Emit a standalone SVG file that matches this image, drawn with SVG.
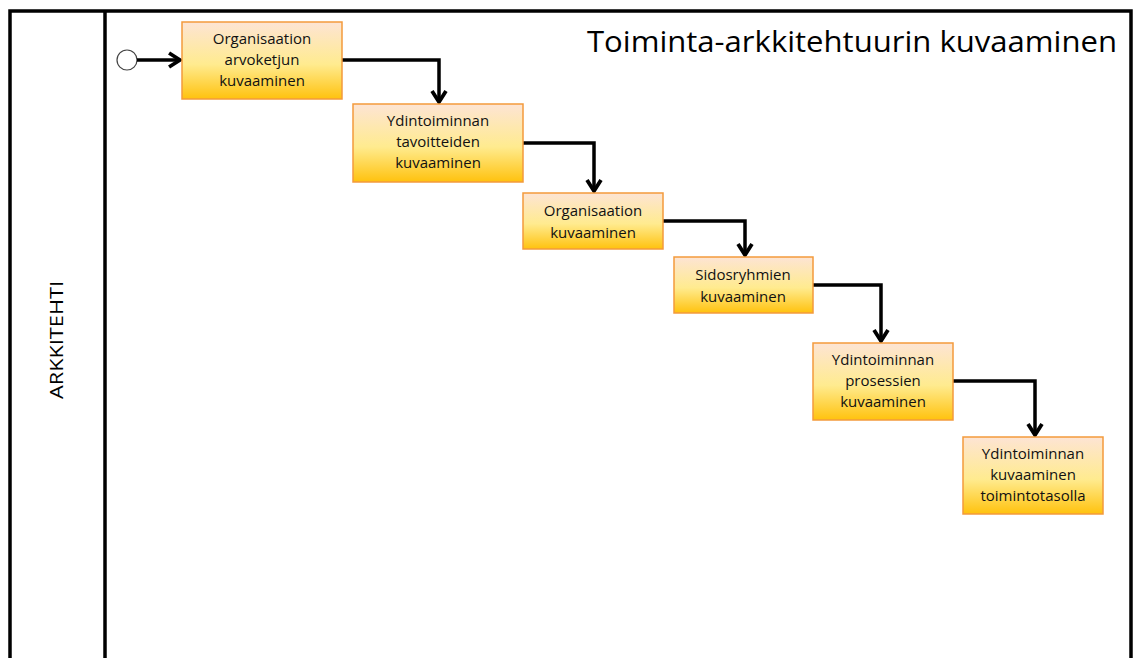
<svg xmlns="http://www.w3.org/2000/svg" width="1134" height="658" viewBox="0 0 1134 658">
  <defs>
    <linearGradient id="taskFill" x1="0" y1="0" x2="0" y2="1">
      <stop offset="0" stop-color="#fde4d4"/>
      <stop offset="0.55" stop-color="#ffeb8f"/>
      <stop offset="1" stop-color="#ffc20e"/>
    </linearGradient>
    <marker id="arrow" viewBox="0 0 12 12" refX="10" refY="6" markerWidth="5" markerHeight="5" orient="auto" markerUnits="strokeWidth">
      <path d="M2.5,1.2 L10,6 L2.5,10.8" fill="none" stroke="#000" stroke-width="2.6" stroke-linejoin="miter"/>
    </marker>
  </defs>
  <style>
    .lane { fill: none; stroke: #000; stroke-width: 3.5; }
    .task rect { fill: url(#taskFill); stroke: #f39a3c; stroke-width: 1.5; }
    .task text { font-family: "Open Sans", "Liberation Sans", sans-serif; font-size: 15px; fill: #111; text-anchor: middle; }
    .flow { fill: none; stroke: #000; stroke-width: 3.5; stroke-linejoin: miter; marker-end: url(#arrow); }
    .title { font-family: "Open Sans", "Liberation Sans", sans-serif; font-size: 29px; fill: #000; }
    .laneLabel { font-family: "Open Sans", "Liberation Sans", sans-serif; font-size: 18px; fill: #000; text-anchor: middle; }
  </style>

  <rect width="1134" height="658" fill="#fff"/>

  <!-- swimlane frame -->
  <g id="lane">
    <path class="lane" d="M10,660 V11 H1131 V660"/>
    <line class="lane" x1="105" y1="11" x2="105" y2="660"/>
    <text class="laneLabel" transform="translate(63,340) rotate(-90)" textLength="118" lengthAdjust="spacingAndGlyphs">ARKKITEHTI</text>
    <text class="title" x="1117" y="52" text-anchor="end" textLength="530" lengthAdjust="spacingAndGlyphs">Toiminta-arkkitehtuurin kuvaaminen</text>
  </g>

  <!-- start event -->
  <g id="start">
    <circle cx="127" cy="60" r="10" fill="#fff" stroke="#444" stroke-width="1.2"/>
  </g>

  <!-- sequence flows -->
  <g id="connectors">
    <path class="flow" d="M137,60 H180"/>
    <path class="flow" d="M342,60 H439 V102"/>
    <path class="flow" d="M523,143 H594 V191"/>
    <path class="flow" d="M663,221 H745 V255"/>
    <path class="flow" d="M813,285 H881 V341"/>
    <path class="flow" d="M953,381 H1035 V435"/>
  </g>

  <!-- tasks -->
  <g id="task1" class="task">
    <rect x="182" y="22" width="160" height="77"/>
    <text x="262" y="44">Organisaation</text>
    <text x="262" y="65">arvoketjun</text>
    <text x="262" y="86">kuvaaminen</text>
  </g>
  <g id="task2" class="task">
    <rect x="353" y="104" width="170" height="78"/>
    <text x="438" y="126">Ydintoiminnan</text>
    <text x="438" y="147">tavoitteiden</text>
    <text x="438" y="168">kuvaaminen</text>
  </g>
  <g id="task3" class="task">
    <rect x="523" y="193" width="140" height="56"/>
    <text x="593" y="216">Organisaation</text>
    <text x="593" y="238">kuvaaminen</text>
  </g>
  <g id="task4" class="task">
    <rect x="674" y="257" width="139" height="56"/>
    <text x="743" y="280">Sidosryhmien</text>
    <text x="743" y="302">kuvaaminen</text>
  </g>
  <g id="task5" class="task">
    <rect x="813" y="343" width="140" height="77"/>
    <text x="883" y="365">Ydintoiminnan</text>
    <text x="883" y="386">prosessien</text>
    <text x="883" y="407">kuvaaminen</text>
  </g>
  <g id="task6" class="task">
    <rect x="963" y="437" width="140" height="77"/>
    <text x="1033" y="459">Ydintoiminnan</text>
    <text x="1033" y="480">kuvaaminen</text>
    <text x="1033" y="501">toimintotasolla</text>
  </g>
</svg>
